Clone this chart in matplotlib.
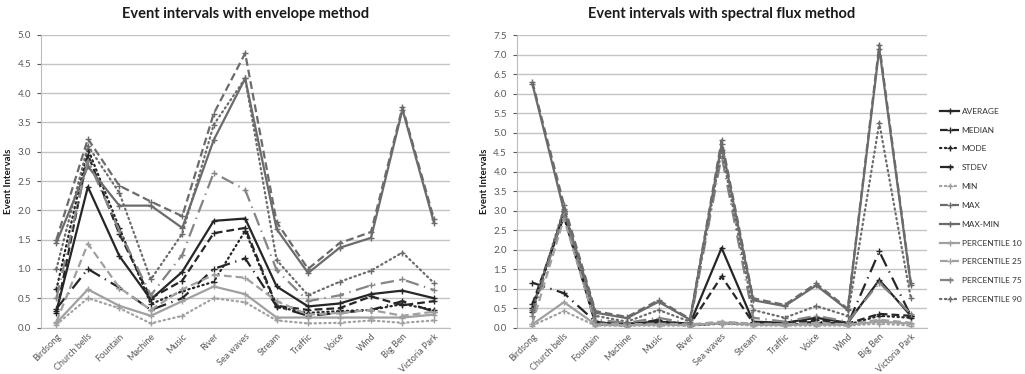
import matplotlib
matplotlib.use("Agg")
import matplotlib.pyplot as plt

plt.rcParams['font.family'] = ['Lato', 'DejaVu Sans']

categories = ['Birdsong', 'Church bells', 'Fountain', 'Machine', 'Music', 'River', 'Sea waves',
              'Stream', 'Traffic', 'Voice', 'Wind', 'Big Ben', 'Victoria Park']

series_names = ['AVERAGE', 'MEDIAN', 'MODE', 'STDEV', 'MIN', 'MAX', 'MAX-MIN',
                'PERCENTILE 10', 'PERCENTILE 25', 'PERCENTILE 75', 'PERCENTILE 90']

# envelope method
env_average = [0.28, 2.40, 1.22, 0.48, 0.95, 1.82, 1.86, 0.70, 0.36, 0.41, 0.57, 0.63, 0.50]
env_median = [0.25, 2.95, 1.60, 0.50, 0.80, 1.61, 1.70, 0.37, 0.30, 0.33, 0.53, 0.38, 0.45]
env_mode = [0.65, 3.05, 1.70, 0.40, 0.62, 0.78, 1.65, 0.35, 0.25, 0.28, 0.30, 0.40, 0.30]
env_stdev = [0.32, 1.00, 0.68, 0.30, 0.50, 1.00, 1.18, 0.36, 0.20, 0.25, 0.30, 0.45, 0.27]
env_min = [0.05, 0.50, 0.33, 0.07, 0.20, 0.50, 0.43, 0.12, 0.07, 0.08, 0.12, 0.08, 0.12]
env_max = [1.50, 3.22, 2.42, 2.15, 1.90, 3.65, 4.68, 1.80, 1.00, 1.44, 1.63, 3.76, 1.85]
env_maxmin = [1.45, 2.75, 2.08, 2.08, 1.70, 3.20, 4.25, 1.68, 0.93, 1.36, 1.53, 3.72, 1.79]
env_p10 = [0.08, 0.65, 0.37, 0.20, 0.45, 0.70, 0.57, 0.17, 0.17, 0.17, 0.17, 0.17, 0.22]
env_p25 = [0.10, 1.43, 0.68, 0.30, 0.65, 0.90, 0.85, 0.45, 0.22, 0.25, 0.30, 0.20, 0.27]
env_p75 = [0.50, 2.85, 1.65, 0.55, 1.24, 2.64, 2.35, 0.98, 0.45, 0.55, 0.72, 0.82, 0.64]
env_p90 = [1.00, 3.10, 2.30, 0.82, 1.60, 3.46, 4.25, 1.15, 0.55, 0.78, 0.97, 1.28, 0.76]

# spectral flux method
spec_average = [0.50, 2.90, 0.12, 0.10, 0.15, 0.10, 2.04, 0.15, 0.12, 0.25, 0.12, 1.22, 0.30]
spec_median = [0.60, 2.85, 0.10, 0.08, 0.12, 0.08, 1.31, 0.12, 0.10, 0.20, 0.10, 0.35, 0.30]
spec_mode = [0.40, 3.00, 0.08, 0.05, 0.10, 0.05, 0.10, 0.08, 0.07, 0.12, 0.07, 0.30, 0.25]
spec_stdev = [1.15, 0.88, 0.15, 0.05, 0.20, 0.05, 0.12, 0.10, 0.08, 0.15, 0.08, 1.95, 0.30]
spec_min = [0.05, 0.42, 0.05, 0.05, 0.05, 0.05, 0.10, 0.05, 0.05, 0.05, 0.05, 0.10, 0.05]
spec_max = [6.30, 3.15, 0.42, 0.27, 0.70, 0.22, 4.80, 0.75, 0.58, 1.13, 0.48, 7.25, 1.14]
spec_maxmin = [6.25, 3.00, 0.38, 0.24, 0.66, 0.20, 4.70, 0.70, 0.55, 1.08, 0.45, 7.15, 1.10]
spec_p10 = [0.08, 0.65, 0.08, 0.06, 0.08, 0.06, 0.12, 0.08, 0.07, 0.08, 0.07, 0.15, 0.10]
spec_p25 = [0.10, 2.80, 0.10, 0.08, 0.10, 0.08, 0.15, 0.10, 0.08, 0.12, 0.08, 0.20, 0.12]
spec_p75 = [0.30, 2.95, 0.20, 0.12, 0.25, 0.10, 4.40, 0.25, 0.15, 0.30, 0.15, 1.15, 0.35]
spec_p90 = [0.45, 3.05, 0.30, 0.15, 0.45, 0.15, 4.55, 0.45, 0.25, 0.55, 0.30, 5.25, 0.75]

env_series = [env_average, env_median, env_mode, env_stdev, env_min, env_max, env_maxmin,
              env_p10, env_p25, env_p75, env_p90]
spec_series = [spec_average, spec_median, spec_mode, spec_stdev, spec_min, spec_max, spec_maxmin,
               spec_p10, spec_p25, spec_p75, spec_p90]

BLACK = '#262626'
DARK = '#6b6b6b'
MID = '#848484'
LIGHT = '#a0a0a0'
DOT = (0, (0.6, 1.6))
styles = [
    dict(color=BLACK, ls='-'),
    dict(color=BLACK, ls=(0, (3.5, 1.8))),
    dict(color=BLACK, ls=DOT, dash_capstyle='round'),
    dict(color=BLACK, ls=(0, (6, 2.5, 0.6, 2.5))),
    dict(color=LIGHT, ls=DOT, dash_capstyle='round'),
    dict(color=DARK, ls=(0, (3.5, 1.8))),
    dict(color=DARK, ls='-'),
    dict(color=LIGHT, ls='-'),
    dict(color=LIGHT, ls=(0, (3.5, 1.8))),
    dict(color=MID, ls=(0, (6, 2.5, 0.6, 2.5))),
    dict(color=DARK, ls=DOT, dash_capstyle='round'),
]


def draw_panel(ax, series, title, ymax):
    x = range(len(categories))
    for name, values, st in zip(series_names, series, styles):
        ax.plot(x, values, lw=1.6, marker='+', ms=5, mew=1.0, label=name, **st)
    ax.set_xlim(-0.5, len(categories) - 0.5)
    ax.set_ylim(0, ymax)
    ax.set_yticks([i * 0.5 for i in range(int(ymax / 0.5) + 1)])
    ax.yaxis.set_major_formatter(matplotlib.ticker.FormatStrFormatter('%.1f'))
    ax.set_xticks(list(x))
    ax.set_xticklabels(categories, rotation=45, ha='right', rotation_mode='anchor')
    ax.grid(axis='y', color='#c4c4c4', lw=1.0)
    ax.set_axisbelow(True)
    for side in ['top', 'right']:
        ax.spines[side].set_visible(False)
    for side in ['left', 'bottom']:
        ax.spines[side].set_color('#bdbdbd')
    ax.tick_params(axis='y', labelsize=7, colors='#595959', length=3, pad=4)
    ax.tick_params(axis='x', labelsize=6.5, colors='#595959', length=0, pad=3)
    ax.set_ylabel('Event Intervals', fontsize=7, fontweight='bold', color='#1a1a1a', labelpad=3)
    ax.set_title(title, fontsize=10.5, fontweight='bold', color='#1a1a1a', pad=12)


fig = plt.figure(figsize=(10.25, 3.74), dpi=100)
ax1 = fig.add_axes([0.0397, 0.1243, 0.399, 0.7834])
ax2 = fig.add_axes([0.504, 0.1243, 0.400, 0.7820])

draw_panel(ax1, env_series, 'Event intervals with envelope method', 5.0)
draw_panel(ax2, spec_series, 'Event intervals with spectral flux method', 7.5)

handles, labels = ax2.get_legend_handles_labels()
fig.legend(handles, labels, loc='upper left', bbox_to_anchor=(0.917, 0.712), frameon=False,
           borderpad=0, borderaxespad=0,
           fontsize=6, handlelength=2.3, handletextpad=0.3, labelspacing=1.42,
           labelcolor='#333333')

fig.savefig('out.png', dpi=100)
